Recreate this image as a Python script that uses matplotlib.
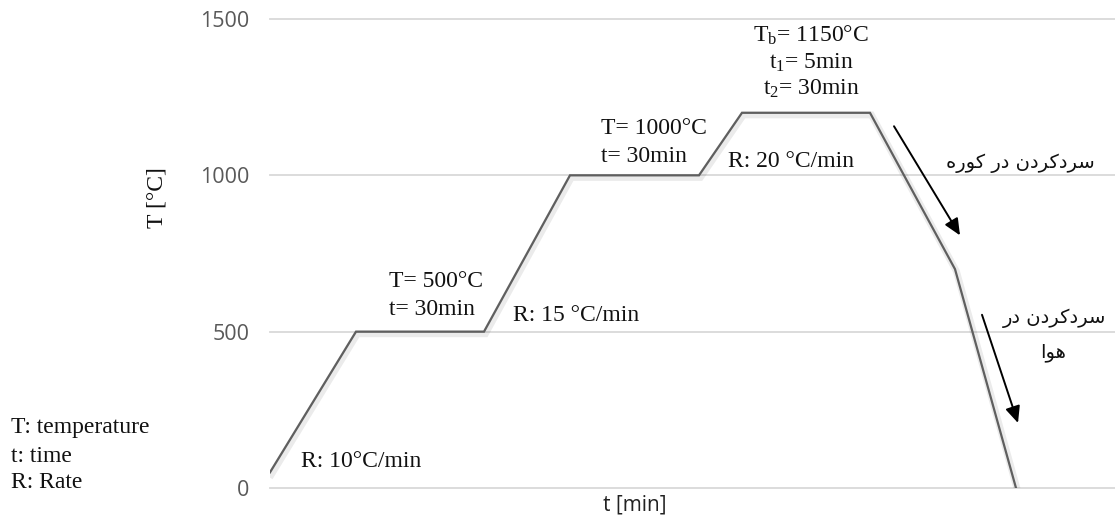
import matplotlib
matplotlib.use("Agg")
import matplotlib.pyplot as plt
import matplotlib.patheffects as pe

# ---- data (schematic heat-treatment cycle) ----
time_pts = [0, 86, 214, 300, 429, 472, 600, 685, 746]
temp_pts = [50, 500, 500, 1000, 1000, 1200, 1200, 700, 0]
y_ticks = [0, 500, 1000, 1500]
y_tick_labels = ["0", "500", "1000", "1500"]
x_max = 845

# Persian labels (presentation forms, visual order for LTR rendering)
fa_furnace = "\uFEE9\uFEAD\uFEEE\uFB90 \uFEAD\uFEA9 \uFEE5\uFEA9\uFEAE\uFB90\uFEA9\uFEAE\uFEB3"  # سردکردن در کوره
fa_air1 = "\uFEAD\uFEA9 \uFEE5\uFEA9\uFEAE\uFB90\uFEA9\uFEAE\uFEB3"  # سردکردن در
fa_air2 = "\uFE8D\uFEEE\uFEEB"  # هوا

plt.rcParams['mathtext.fontset'] = 'custom'
plt.rcParams['mathtext.rm'] = 'Liberation Serif'
plt.rcParams['mathtext.it'] = 'Liberation Serif:italic'

W, H = 1115, 518
fig = plt.figure(figsize=(W / 100, H / 100), dpi=100)
ax = fig.add_axes([270 / W, 1 - 488 / H, (1115 - 270) / W, (488 - 19) / H])

serif = 'Liberation Serif'
sans = 'Open Sans'
fs = 17
grey = '#595959'

ax.plot(time_pts, temp_pts, color='#5f5f5f', lw=1.6, solid_joinstyle='miter', zorder=3,
        path_effects=[pe.SimpleLineShadow(offset=(1, -1.5), shadow_color='#000000', alpha=0.08, linewidth=5),
                      pe.Normal()])

ax.set_xlim(0, x_max)
ax.set_ylim(0, 1500)
ax.set_yticks(y_ticks)
ax.set_yticklabels(y_tick_labels, fontfamily=sans, fontsize=15.5, color=grey)
ax.set_xticks([])
ax.tick_params(axis='y', length=0, pad=15)
for s in ax.spines.values():
    s.set_visible(False)
ax.grid(axis='y', color='#d9d9d9', lw=1.3, zorder=0)
ax.set_axisbelow(True)
for gl in ax.get_ygridlines():
    gl.set_clip_on(False)

ax.set_ylabel("T [°C]", fontfamily=serif, fontsize=fs, color='#111111', va='center')
ax.yaxis.set_label_coords(-0.134, 0.62)
ax.set_xlabel("t [min]", fontfamily=sans, fontsize=15, color='#222222', va='center')
ax.xaxis.set_label_coords(0.432, -0.037)

tc = '#111111'
def txt(x, y, s, ha='left', family=serif, size=fs, **kw):
    ax.text(x, y, s, ha=ha, va='center', fontfamily=family, fontsize=size, color=tc, **kw)

txt(31, 86, "R: 10°C/min")
txt(119, 659, "T= 500°C")
txt(119, 572, "t= 30min")
txt(243, 553, "R: 15 °C/min")
txt(331, 1150, "T= 1000°C")
txt(331, 1059, "t= 30min")
txt(458, 1043, "R: 20 °C/min")
txt(541, 1449, r"T$_\mathrm{b}$= 1150°C", ha='center')
txt(541, 1359, r"t$_\mathrm{1}$= 5min", ha='center')
txt(541, 1276, r"t$_\mathrm{2}$= 30min", ha='center')

txt(825, 1039, fa_furnace, ha='right', family='DejaVu Sans', size=14)
txt(836, 544, fa_air1, ha='right', family='DejaVu Sans', size=14)
txt(783, 432, fa_air2, ha='center', family='DejaVu Sans', size=14)

arrowprops = dict(arrowstyle='-|>,head_length=1.0,head_width=0.45', color='black', lw=1.4, shrinkA=0, shrinkB=0)
ax.annotate("", xy=(690, 808), xytext=(624, 1157), arrowprops=arrowprops, annotation_clip=False)
ax.annotate("", xy=(748, 208), xytext=(712, 554), arrowprops=arrowprops, annotation_clip=False)

for yy, s in zip([427, 456, 483], ["T: temperature", "t: time", "R: Rate"]):
    fig.text(11 / W, 1 - yy / H, s, ha='left', va='center', fontfamily=serif, fontsize=fs, color=tc)

fig.savefig("out.png", dpi=100)
